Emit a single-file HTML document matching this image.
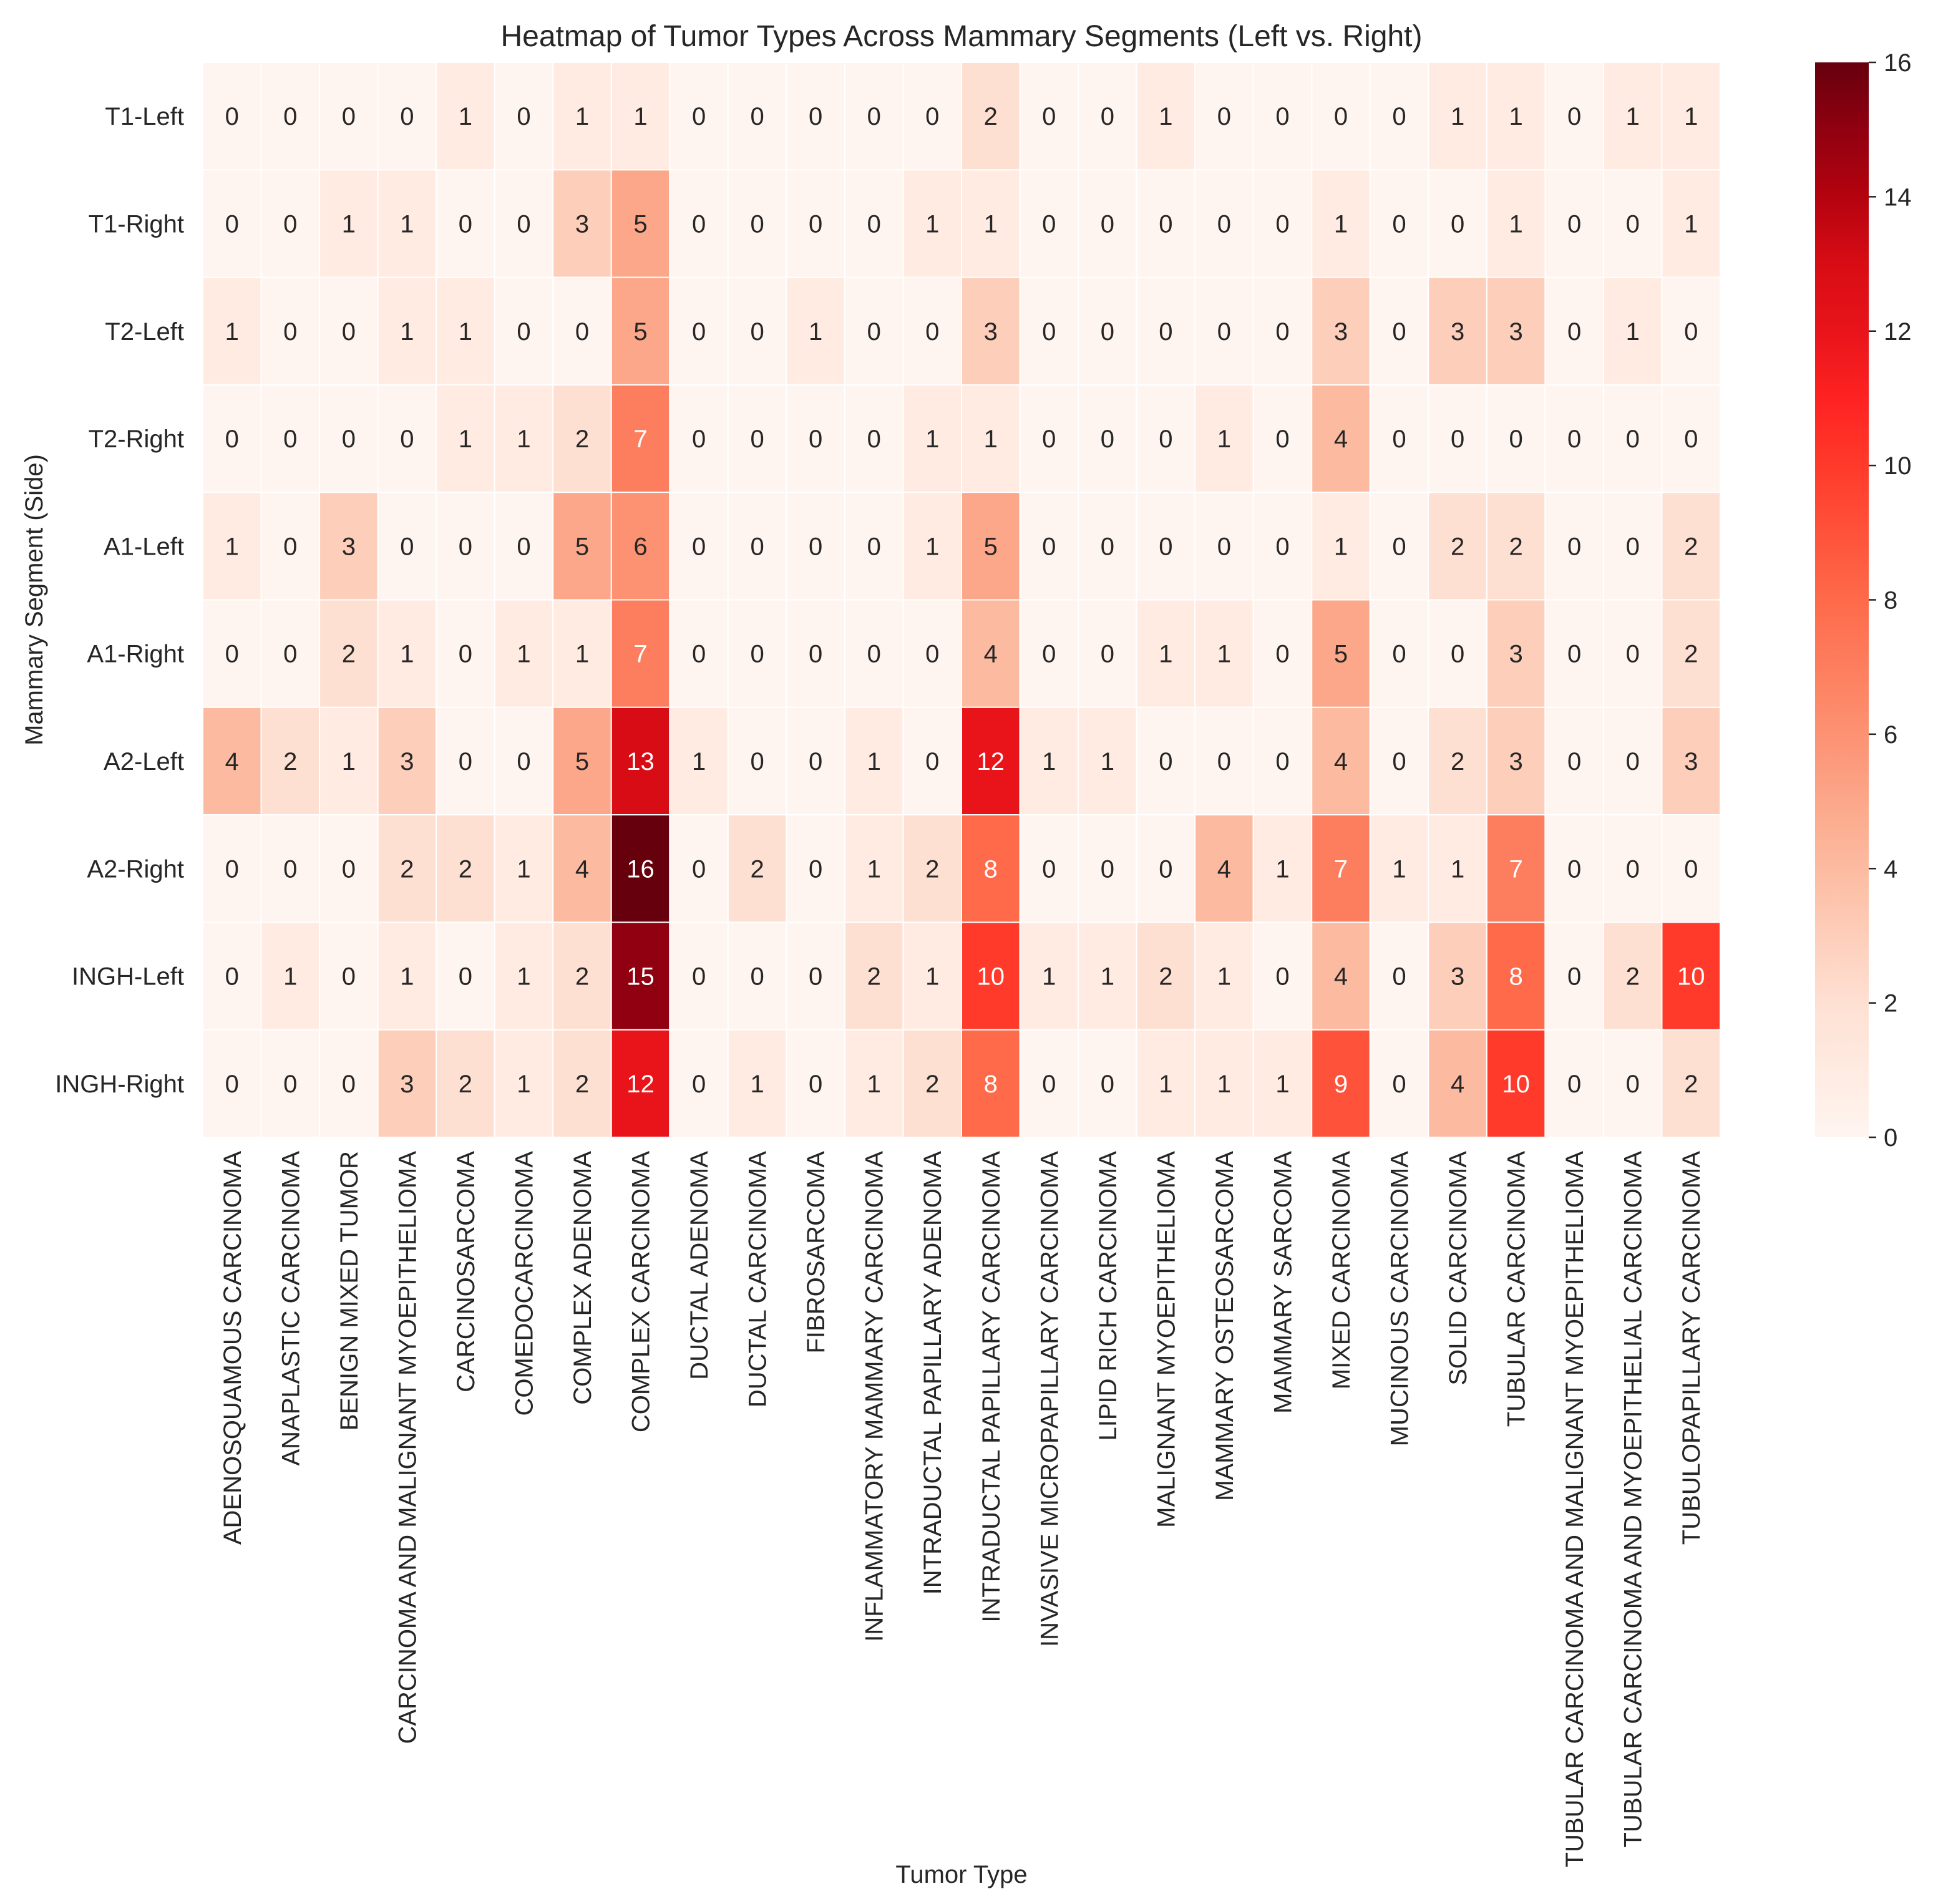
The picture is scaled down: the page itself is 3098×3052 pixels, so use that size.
<!DOCTYPE html>
<html><head><meta charset="utf-8"><style>
body{margin:0;background:#fff}
svg{display:block;font-family:"Liberation Sans",Arial,sans-serif}
</style></head><body>
<svg id="chart" width="3098" height="3052"></svg>
<script>
const tumorTypes=["ADENOSQUAMOUS CARCINOMA","ANAPLASTIC CARCINOMA","BENIGN MIXED TUMOR","CARCINOMA AND MALIGNANT MYOEPITHELIOMA","CARCINOSARCOMA","COMEDOCARCINOMA","COMPLEX ADENOMA","COMPLEX CARCINOMA","DUCTAL ADENOMA","DUCTAL CARCINOMA","FIBROSARCOMA","INFLAMMATORY MAMMARY CARCINOMA","INTRADUCTAL PAPILLARY ADENOMA","INTRADUCTAL PAPILLARY CARCINOMA","INVASIVE MICROPAPILLARY CARCINOMA","LIPID RICH CARCINOMA","MALIGNANT MYOEPITHELIOMA","MAMMARY OSTEOSARCOMA","MAMMARY SARCOMA","MIXED CARCINOMA","MUCINOUS CARCINOMA","SOLID CARCINOMA","TUBULAR CARCINOMA","TUBULAR CARCINOMA AND MALIGNANT MYOEPITHELIOMA","TUBULAR CARCINOMA AND MYOEPITHELIAL CARCINOMA","TUBULOPAPILLARY CARCINOMA"];
const segments=["T1-Left","T1-Right","T2-Left","T2-Right","A1-Left","A1-Right","A2-Left","A2-Right","INGH-Left","INGH-Right"];
const rowT1L=[0,0,0,0,1,0,1,1,0,0,0,0,0,2,0,0,1,0,0,0,0,1,1,0,1,1];
const rowT1R=[0,0,1,1,0,0,3,5,0,0,0,0,1,1,0,0,0,0,0,1,0,0,1,0,0,1];
const rowT2L=[1,0,0,1,1,0,0,5,0,0,1,0,0,3,0,0,0,0,0,3,0,3,3,0,1,0];
const rowT2R=[0,0,0,0,1,1,2,7,0,0,0,0,1,1,0,0,0,1,0,4,0,0,0,0,0,0];
const rowA1L=[1,0,3,0,0,0,5,6,0,0,0,0,1,5,0,0,0,0,0,1,0,2,2,0,0,2];
const rowA1R=[0,0,2,1,0,1,1,7,0,0,0,0,0,4,0,0,1,1,0,5,0,0,3,0,0,2];
const rowA2L=[4,2,1,3,0,0,5,13,1,0,0,1,0,12,1,1,0,0,0,4,0,2,3,0,0,3];
const rowA2R=[0,0,0,2,2,1,4,16,0,2,0,1,2,8,0,0,0,4,1,7,1,1,7,0,0,0];
const rowIL=[0,1,0,1,0,1,2,15,0,0,0,2,1,10,1,1,2,1,0,4,0,3,8,0,2,10];
const rowIR=[0,0,0,3,2,1,2,12,0,1,0,1,2,8,0,0,1,1,1,9,0,4,10,0,0,2];
const values=[rowT1L,rowT1R,rowT2L,rowT2R,rowA1L,rowA1R,rowA2L,rowA2R,rowIL,rowIR];
const cbTicks=[0,2,4,6,8,10,12,14,16];
const vmin=0,vmax=16;

const NS="http://www.w3.org/2000/svg";
const svg=document.getElementById('chart');
const L=325,R=2757,T=100,B=1823;
const nc=tumorTypes.length,nr=segments.length;
const cw=(R-L)/nc,ch=(B-T)/nr;
const xPos=i=>L+i*cw, yPos=j=>T+j*ch;
const cstops=[[0,"#fff5f0"],[2,"#fee0d2"],[4,"#fcbba1"],[6,"#fc9272"],[8,"#fe6a4a"],[10,"#ff3a2a"],[11,"#fe2222"],[12,"#e8141a"],[13,"#d80c14"],[14,"#b4030f"],[15,"#900010"],[16,"#67000d"]].map(([p,h])=>[p/16,[1,3,5].map(k=>parseInt(h.substr(k,2),16))]);
function cmap(v){const t=Math.max(0,Math.min(1,(v-vmin)/(vmax-vmin)));for(let i=0;i<cstops.length-1;i++){const [p0,c0]=cstops[i],[p1,c1]=cstops[i+1];if(t<=p1){const f=(t-p0)/(p1-p0);return c0.map((c,k)=>Math.round(c+(c1[k]-c)*f));}}return cstops[cstops.length-1][1];}
function lum(c){const a=c.map(x=>{x/=255;return x<=0.03928?x/12.92:Math.pow((x+0.055)/1.055,2.4)});return 0.2126*a[0]+0.7152*a[1]+0.0722*a[2];}
function mk(tag,attrs,parent){const e=document.createElementNS(NS,tag);for(const k in attrs)e.setAttribute(k,attrs[k]);(parent||svg).appendChild(e);return e;}

const g=mk('g',{});


for(let j=0;j<nr;j++)for(let i=0;i<nc;i++){
  const v=values[j][i],c=cmap(v);
  const r=mk('rect',{x:xPos(i),y:yPos(j),width:cw,height:ch,fill:`rgb(${c})`,stroke:'#fff','stroke-width':2},g);
  
  
  const t=mk('text',{x:xPos(i)+cw/2,y:yPos(j)+ch/2+14,'text-anchor':'middle','font-size':40,fill:lum(c)>0.408?'#262626':'#fff'},g);
  
  
  t.textContent=v;
}
for(let j=0;j<nr;j++){
  const t=mk('text',{x:L-30,y:yPos(j)+ch/2+14,'text-anchor':'end','font-size':40,fill:'#262626'});
  
  
  t.textContent=segments[j];
}
for(let i=0;i<nc;i++){
  const x=xPos(i)+cw/2+14,y=B+22;
  const t=mk('text',{x:x,y:y,'text-anchor':'end','font-size':40,fill:'#262626',transform:`rotate(-90 ${x} ${y})`});
  
  
  t.textContent=tumorTypes[i];
}
let t=mk('text',{x:(L+R)/2,y:74,'text-anchor':'middle','font-size':48,fill:'#262626'});

t.textContent='Heatmap of Tumor Types Across Mammary Segments (Left vs. Right)';
t=mk('text',{x:(L+R)/2,y:3018,'text-anchor':'middle','font-size':40,fill:'#262626'});

t.textContent='Tumor Type';
t=mk('text',{x:68,y:(T+B)/2,'text-anchor':'middle','font-size':40,fill:'#262626',transform:`rotate(-90 68 ${(T+B)/2})`});

t.textContent='Mammary Segment (Side)';

const CX=2909,CW=86;
const defs=mk('defs',{});
const lg=mk('linearGradient',{id:'cbg',x1:0,y1:1,x2:0,y2:0},defs);
for(let k=0;k<=64;k++){const c=cmap(vmin+(vmax-vmin)*k/64);mk('stop',{offset:k/64,'stop-color':`rgb(${c})`},lg);}
const cb=mk('rect',{x:CX,y:T,width:CW,height:B-T,fill:'url(#cbg)'});

const cy=v=>B-(v-vmin)/(vmax-vmin)*(B-T);
cbTicks.forEach(v=>{
  const l=mk('line',{x1:CX+CW,x2:CX+CW+12,y1:cy(v),y2:cy(v),stroke:'#262626','stroke-width':2.5});
  
  const tt=mk('text',{x:CX+CW+24,y:cy(v)+14,'font-size':40,fill:'#262626'});
  
  tt.textContent=v;
});
</script>
</body></html>
